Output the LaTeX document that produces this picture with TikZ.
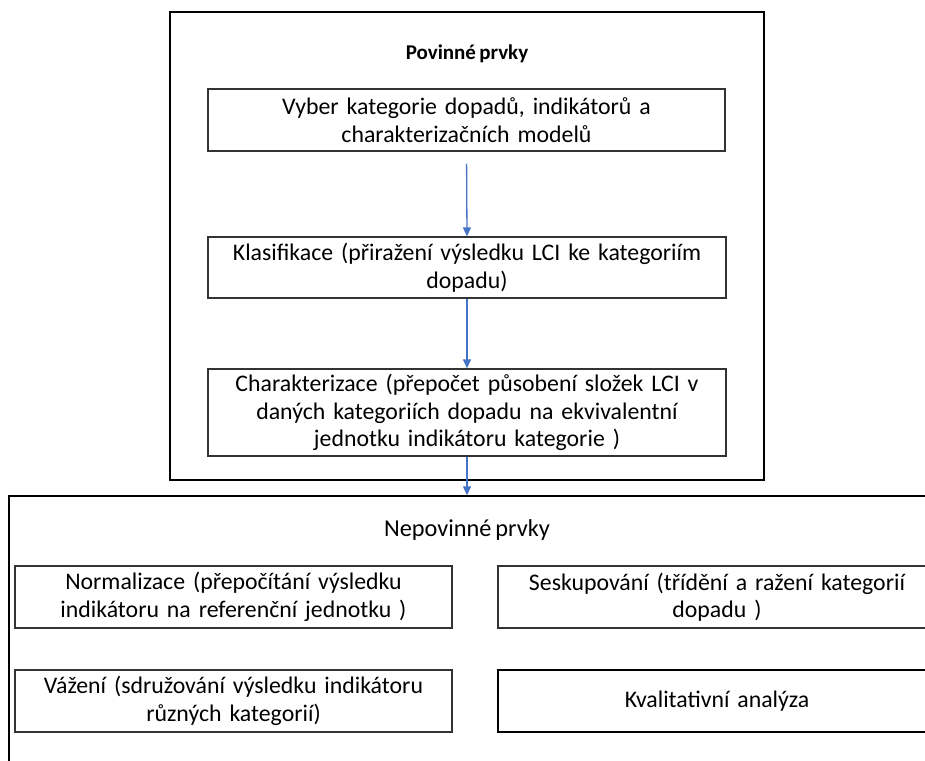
\documentclass[tikz,border=0pt]{standalone}
\usepackage{fontspec}
\setmainfont{Carlito}[WordSpace=0.7]
\usetikzlibrary{arrows.meta}
\definecolor{arrowblue}{HTML}{4472C4}
\definecolor{boxgray}{HTML}{333333}
\begin{document}
\begin{tikzpicture}[x=1pt,y=-1pt,
  frame/.style={draw=black,line width=1.4pt,inner sep=0pt},
  stepbox/.style={draw=boxgray,line width=1.3pt,align=center,inner sep=2pt,
    font=\fontsize{23.8}{27.5}\selectfont},
  flow/.style={draw=arrowblue,line width=1.3pt,-{Triangle[length=9pt,width=8pt]}}]
\useasboundingbox (0,0) rectangle (925,760);
\clip (0,0) rectangle (925,760);
% outer frames
\node[frame,minimum width=594pt,minimum height=468pt] (top) at (467,246) {};
\node[frame,minimum width=930pt,minimum height=280pt] (bottom) at (474,636) {};
% titles
\node[font=\fontsize{21}{25}\selectfont\bfseries] (toptitle) at (467,54) {Povinné prvky};
\node[font=\fontsize{24.3}{28}\selectfont] (bottomtitle) at (467,530) {Nepovinné prvky};
% mandatory steps
\node[stepbox,minimum width=517pt,minimum height=62pt,text width=505pt] (sel) at (466.5,120)
  {Vyber kategorie dopadů, indikátorů a\\ charakterizačních modelů};
\node[stepbox,minimum width=518pt,minimum height=61pt,text width=505pt] (cls) at (467,267.5)
  {Klasifikace (přiražení výsledku LCI ke kategoriím\\ dopadu)};
\node[stepbox,minimum width=518pt,minimum height=87pt,text width=505pt] (chr) at (467,412.5)
  {Charakterizace (přepočet působení složek LCI v\\ daných kategoriích dopadu na ekvivalentní\\ jednotku indikátoru kategorie )};
% optional steps
\node[stepbox,minimum width=437pt,minimum height=62pt,text width=430pt] (norm) at (233.5,597)
  {Normalizace (přepočítání výsledku\\ indikátoru na referenční jednotku )};
\node[stepbox,minimum width=438pt,minimum height=62pt,text width=430pt] (grp) at (717,597)
  {Seskupování (třídění a ražení kategorií\\ dopadu )};
\node[stepbox,minimum width=437pt,minimum height=62pt,text width=430pt] (wgt) at (233.5,701)
  {Vážení (sdružování výsledku indikátoru\\ různých kategorií)};
\node[stepbox,draw=black,minimum width=438pt,minimum height=62pt,text width=430pt] (qual) at (717,701)
  {Kvalitativní analýza};
% flow
\draw[flow,shorten <=12pt] (sel.south) -- (cls.north);
\draw[flow] (cls.south) -- (chr.north);
\draw[flow] (chr.south) -- (chr.south |- bottom.north);
\end{tikzpicture}
\end{document}
